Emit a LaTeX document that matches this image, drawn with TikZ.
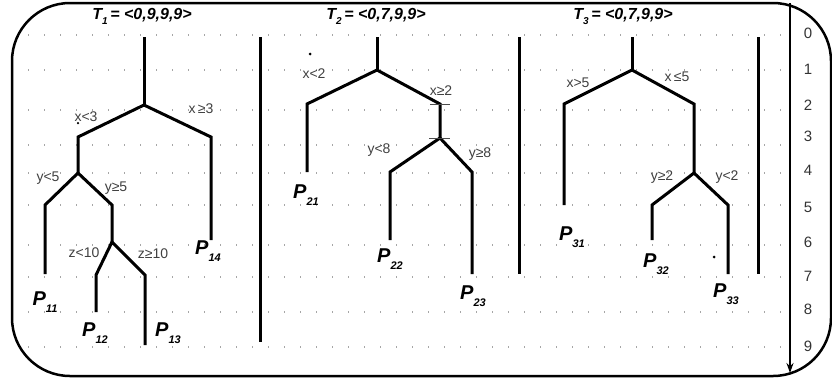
\documentclass[tikz,border=0pt]{standalone}
\usepackage{fontspec}
\setmainfont{Liberation Sans}
\usetikzlibrary{arrows.meta}
\newcommand{\SubIdx}[2]{\raisebox{-0.6ex}{\fontsize{#1}{#1}\selectfont #2}}
\newcommand{\LeafP}[1]{{\fontsize{20}{20}\selectfont\bfseries\itshape P\SubIdx{11}{#1}}}
\newcommand{\TreeT}[2]{{\fontsize{16}{16}\selectfont\bfseries\itshape T\SubIdx{10}{#1}\,= <#2>}}

\begin{document}
\begin{tikzpicture}[x=1pt,y=-1pt,
    branch/.style={line width=3pt,line join=miter},
    sep/.style={line width=3pt},
    grid/.style={gray!70,line width=1.2pt,dash pattern=on 1.2pt off 14.8pt},
    lbl/.style={text=black!75,font=\fontsize{14}{14}\selectfont,inner sep=0pt},
    leaf/.style={inner sep=0pt},
    title/.style={inner sep=0pt},
    tick/.style={line width=1pt,black!70},
    speck/.style={fill=black,inner sep=0pt,minimum size=3pt,circle}
  ]
  \useasboundingbox (0,0) rectangle (832,381);

  % frame and dotted rows
  \draw[line width=2.5pt,rounded corners=58pt] (12,3) rectangle (831,376);
  \foreach \ry in {35,70,110,145,173,205,245,277,312,347}
    \draw[grid] (28,\ry) -- (786,\ry);

  % level axis
  \coordinate (axtop) at (790,3);
  \coordinate (axbot) at (790,373);
  \draw[line width=2pt,-{Stealth[length=10pt,width=7pt]}] (axtop) -- (axbot);
  \foreach \n/\ny in {0/33,1/69,2/105,3/136,4/170,5/207,6/242,7/276,8/309,9/346}
    \node[lbl,text=black!80,font=\fontsize{15}{15}\selectfont] (lev\n) at (808,\ny) {\n};

  % titles
  \node[title] (t1) at (142,16) {\TreeT{1}{0,9,9,9}};
  \node[title] (t2) at (376,16) {\TreeT{2}{0,7,9,9}};
  \node[title] (t3) at (623,16) {\TreeT{3}{0,7,9,9}};

  % separators
  \coordinate (s1a) at (260,37); \coordinate (s1b) at (260,342);
  \coordinate (s2a) at (519,37); \coordinate (s2b) at (519,274);
  \coordinate (s3a) at (758,37); \coordinate (s3b) at (758,274);
  \draw[sep] (s1a) -- (s1b);
  \draw[sep] (s2a) -- (s2b);
  \draw[sep] (s3a) -- (s3b);

  % tree T1
  \coordinate (a0) at (144,37);  \coordinate (a1) at (144,105);
  \coordinate (a2) at (78,137);  \coordinate (a3) at (211,137);
  \coordinate (a4) at (78,173);  \coordinate (a5) at (45,205);
  \coordinate (a6) at (112,205); \coordinate (a7) at (112,242);
  \coordinate (a8) at (96,275);  \coordinate (a9) at (145,275);
  \coordinate (l11) at (45,274); \coordinate (l12) at (96,312);
  \coordinate (l13) at (145,345); \coordinate (l14) at (211,240);
  \draw[branch] (a0) -- (a1);
  \draw[branch] (l11) -- (a5) -- (a4) -- (a2) -- (a1) -- (a3) -- (l14);
  \draw[branch] (a4) -- (a6) -- (a7);
  \draw[branch] (l12) -- (a8) -- (a7) -- (a9) -- (l13);
  \node[lbl] (e1) at (86,117) {x<3};
  \node[lbl] (e2) at (201,109) {x\,≥3};
  \node[lbl] (e3) at (48,178) {y<5};
  \node[lbl] (e4) at (116,188) {y≥5};
  \node[lbl] (e5) at (84,253) {z<10};
  \node[lbl] (e6) at (153,254) {z≥10};
  \node[speck,minimum size=2.5pt] (d1) at (78,123) {};
  \node[leaf] (p11) at (45,302) {\LeafP{11}};
  \node[leaf] (p12) at (95,333) {\LeafP{12}};
  \node[leaf] (p13) at (168,333) {\LeafP{13}};
  \node[leaf] (p14) at (208,251) {\LeafP{14}};

  % tree T2
  \coordinate (b0) at (377,37);  \coordinate (b1) at (377,70);
  \coordinate (b2) at (307,104); \coordinate (b3) at (440,104);
  \coordinate (b4) at (440,138); \coordinate (b5) at (390,172);
  \coordinate (b6) at (472,172);
  \coordinate (l21) at (307,172); \coordinate (l22) at (390,240);
  \coordinate (l23) at (472,274);
  \draw[branch] (b0) -- (b1);
  \draw[branch] (l21) -- (b2) -- (b1) -- (b3) -- (b4);
  \draw[branch] (l22) -- (b5) -- (b4) -- (b6) -- (l23);
  \draw[tick] ([xshift=-10pt]b3) -- ([xshift=10pt]b3);
  \draw[tick] ([xshift=-11pt]b4) -- ([xshift=10pt]b4);
  \node[lbl] (f1) at (314,74) {x<2};
  \node[lbl] (f2) at (441,91) {x≥2};
  \node[lbl] (f3) at (379,150) {y<8};
  \node[lbl] (f4) at (480,154) {y≥8};
  \node[speck] (d2) at (310,54) {};
  \node[leaf] (p21) at (306,195) {\LeafP{21}};
  \node[leaf] (p22) at (390,259) {\LeafP{22}};
  \node[leaf] (p23) at (473,296) {\LeafP{23}};

  % tree T3
  \coordinate (c0) at (632,37);  \coordinate (c1) at (632,70);
  \coordinate (c2) at (564,104); \coordinate (c3) at (694,104);
  \coordinate (c4) at (694,173); \coordinate (c5) at (652,205);
  \coordinate (c6) at (728,205);
  \coordinate (l31) at (564,205); \coordinate (l32) at (652,240);
  \coordinate (l33) at (728,274);
  \draw[branch] (c0) -- (c1);
  \draw[branch] (l31) -- (c2) -- (c1) -- (c3) -- (c4);
  \draw[branch] (l32) -- (c5) -- (c4) -- (c6) -- (l33);
  \node[lbl] (g1) at (578,83) {x>5};
  \node[lbl] (g2) at (677,77) {x\,≤5};
  \node[lbl] (g3) at (662,177) {y≥2};
  \node[lbl] (g4) at (727,177) {y<2};
  \node[speck] (d3) at (714,257) {};
  \node[leaf] (p31) at (572,237) {\LeafP{31}};
  \node[leaf] (p32) at (656,264) {\LeafP{32}};
  \node[leaf] (p33) at (726,294) {\LeafP{33}};
\end{tikzpicture}
\end{document}
